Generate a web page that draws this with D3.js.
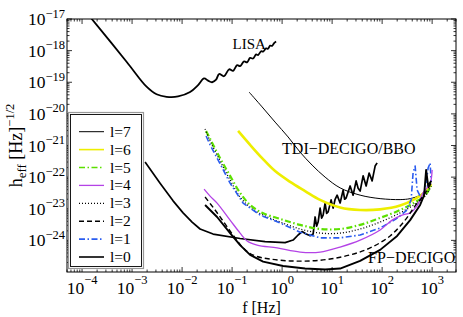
<!DOCTYPE html>
<html>
<head>
<meta charset="utf-8">
<script src="https://cdn.jsdelivr.net/npm/d3@7"></script>
<style>
  html, body { margin: 0; padding: 0; background: #fff; }
  svg text { font-family: "Liberation Serif", "Times New Roman", serif; fill: #000; }
</style>
</head>
<body>
<div id="chart"></div>
<script>
// all values are log10(f [Hz]) and log10(h_eff)
const lisaF = [-3.95, -3.82, -3.11, -2.71, -2.51, -2.31, -2.08, -1.84, -1.68, -1.56, -1.48, -1.40, -1.32, -1.26, -1.16, -1.06, -0.98, -0.90, -0.84, -0.76, -0.70, -0.64, -0.58, -0.52, -0.48, -0.42, -0.38, -0.32, -0.28, -0.24, -0.20, -0.16, -0.12]
const lisaH = [-16.72, -16.97, -18.35, -19.14, -19.38, -19.46, -19.45, -19.31, -19.09, -18.88, -18.95, -19.00, -18.92, -18.74, -18.81, -18.59, -18.64, -18.46, -18.49, -18.34, -18.37, -18.23, -18.25, -18.12, -18.14, -18.02, -18.03, -17.93, -17.94, -17.84, -17.85, -17.76, -17.71]

const noisyF = [-2.74, -2.44, -2.18, -1.98, -1.80, -1.64, -1.38, -0.84, -0.34, 0.06, 0.22, 0.32, 0.40, 0.48, 0.56, 0.62, 0.66, 0.69, 0.72, 0.76, 0.79, 0.82, 0.86, 0.89, 0.92, 0.98, 1.02, 1.06, 1.10, 1.16, 1.22, 1.25, 1.28, 1.36, 1.42, 1.48, 1.52, 1.56, 1.62, 1.68, 1.74, 1.80, 1.86, 1.90]
const noisyH = [-21.52, -22.19, -22.75, -23.13, -23.42, -23.64, -23.80, -23.94, -24.04, -24.07, -23.99, -23.83, -23.72, -23.80, -23.85, -23.80, -23.26, -23.55, -23.42, -22.98, -23.30, -23.20, -22.82, -23.15, -23.10, -22.72, -22.98, -22.70, -22.57, -22.82, -22.41, -22.70, -22.66, -22.28, -22.57, -22.12, -22.35, -22.44, -21.96, -22.28, -21.87, -22.12, -21.65, -21.55]

const l7F = [-0.66, -0.40, -0.14, 0.12, 0.36, 0.60, 0.86, 1.16, 1.56, 1.96, 2.36, 2.56, 2.76, 2.88, 2.98]
const l7H = [-19.31, -19.78, -20.26, -20.73, -21.21, -21.62, -22.00, -22.34, -22.57, -22.68, -22.71, -22.68, -22.57, -22.41, -22.12]

const l6F = [-0.88, -0.64, -0.40, -0.14, 0.16, 0.46, 0.76, 1.16, 1.56, 1.96, 2.36, 2.66, 2.86, 2.98]
const l6H = [-20.54, -20.98, -21.40, -21.81, -22.15, -22.44, -22.72, -22.96, -23.04, -23.02, -22.90, -22.69, -22.47, -22.22]

const l5F = [-1.52, -1.44, -1.24, -1.04, -0.84, -0.64, -0.40, -0.04, 0.36, 0.76, 1.16, 1.56, 1.96, 2.36, 2.66, 2.86, 2.98]
const l5H = [-20.54, -20.79, -21.40, -21.96, -22.50, -22.88, -23.13, -23.32, -23.51, -23.64, -23.64, -23.51, -23.29, -23.04, -22.79, -22.57, -22.28]

const l4F = [-1.56, -1.44, -1.30, -1.04, -0.84, -0.70, -0.50, -0.10, 0.36, 0.76, 1.16, 1.56, 1.96, 2.20, 2.40, 2.56, 2.70, 2.82, 2.96, 3.00]
const l4H = [-22.38, -22.60, -22.82, -23.36, -23.77, -24.02, -24.15, -24.24, -24.37, -24.37, -24.21, -23.99, -23.67, -23.36, -23.20, -23.13, -22.91, -22.50, -22.19, -21.77]

const l3F = [-1.54, -1.44, -1.24, -1.04, -0.84, -0.60, -0.34, -0.04, 0.36, 0.76, 1.16, 1.56, 1.96, 2.36, 2.66, 2.86, 2.98]
const l3H = [-20.48, -20.86, -21.49, -22.09, -22.63, -23.01, -23.23, -23.42, -23.64, -23.77, -23.77, -23.64, -23.42, -23.13, -22.85, -22.60, -22.28]

const l2F = [-1.54, -1.34, -1.14, -0.94, -0.74, -0.54, -0.24, 0.16, 0.56, 0.96, 1.36, 1.76, 2.16, 2.46, 2.66, 2.82, 2.98]
const l2H = [-22.63, -23.04, -23.48, -23.92, -24.30, -24.49, -24.59, -24.65, -24.65, -24.59, -24.46, -24.24, -23.86, -23.36, -22.91, -22.60, -22.19]

const l1F = [-1.52, -1.44, -1.24, -1.04, -0.78, -0.44, -0.04, 0.36, 0.76, 1.16, 1.56, 1.96, 2.28, 2.48, 2.58, 2.62, 2.66, 2.70, 2.78, 2.86, 2.92, 2.96, 2.98]
const l1H = [-20.70, -20.98, -21.58, -22.19, -22.82, -23.20, -23.45, -23.74, -23.92, -23.92, -23.83, -23.61, -23.32, -23.07, -22.72, -21.84, -21.65, -22.41, -22.66, -22.41, -21.71, -21.55, -22.15]

const l0F = [-1.54, -1.30, -1.04, -0.84, -0.64, -0.38, 0.02, 0.46, 0.86, 1.16, 1.56, 1.96, 2.30, 2.56, 2.76, 2.84, 2.88, 2.92, 2.98]
const l0H = [-22.88, -23.26, -23.77, -24.15, -24.46, -24.67, -24.81, -24.89, -24.92, -24.89, -24.65, -24.30, -23.86, -23.36, -22.88, -22.57, -21.77, -22.28, -22.12]

const legendLabels = ['l=7', 'l=6', 'l=5', 'l=4', 'l=3', 'l=2', 'l=1', 'l=0']
const annotations = [
  { text: 'LISA', f: -0.99, h: -17.95 },
  { text: 'TDI\u2212DECIGO/BBO', f: 0.0, h: -21.26 },
  { text: 'FP\u2212DECIGO', f: 1.72, h: -24.72 }
]

const width = 463
const height = 317
const plot = { left: 67, right: 456, top: 19, bottom: 272 }

const svg = d3.select('#chart')
  .append('svg')
  .attr('width', width)
  .attr('height', height)

const x = d3.scaleLog()
  .domain([5e-5, 3e3])
  .range([plot.left, plot.right])
const y = d3.scaleLog()
  .domain([1e-25, 1e-17])
  .range([plot.bottom, plot.top])

const isMajor = d => Math.abs(Math.log10(d) - Math.round(Math.log10(d))) < 1e-6

svg.append('clipPath').attr('id', 'clip')
  .append('rect')
  .attr('x', plot.left).attr('y', plot.top)
  .attr('width', plot.right - plot.left).attr('height', plot.bottom - plot.top)

const pts = (fs, hs) => fs.map((f, i) => [f, hs[i]])
const smooth = d3.line()
  .x(d => x(Math.pow(10, d[0])))
  .y(d => y(Math.pow(10, d[1])))
  .curve(d3.curveCatmullRom.alpha(0.5))
const jagged = d3.line()
  .x(d => x(Math.pow(10, d[0])))
  .y(d => y(Math.pow(10, d[1])))

const styles = {
  l7: { color: '#000', width: 1, dash: null },
  l6: { color: '#eeee00', width: 2.6, dash: null },
  l5: { color: '#5ce000', width: 2.2, dash: '6,2.5,1.5,2.5' },
  l4: { color: '#b443e6', width: 1.3, dash: null },
  l3: { color: '#000', width: 1.3, dash: '1,2' },
  l2: { color: '#000', width: 1.4, dash: '5,3' },
  l1: { color: '#2a5cf0', width: 1.6, dash: '6,2.5,1.5,2.5' },
  l0: { color: '#000', width: 1.9, dash: null }
}

const curves = [
  { d: pts(lisaF, lisaH), color: '#000', width: 1.8, dash: null, gen: smooth },
  { d: pts(noisyF, noisyH), color: '#000', width: 1.7, dash: null, gen: jagged },
  { d: pts(l7F, l7H), ...styles.l7, gen: smooth },
  { d: pts(l6F, l6H), ...styles.l6, gen: smooth },
  { d: pts(l5F, l5H), ...styles.l5, gen: smooth },
  { d: pts(l3F, l3H), ...styles.l3, gen: smooth },
  { d: pts(l1F, l1H), ...styles.l1, gen: jagged },
  { d: pts(l4F, l4H), ...styles.l4, gen: smooth },
  { d: pts(l2F, l2H), ...styles.l2, gen: smooth },
  { d: pts(l0F, l0H), ...styles.l0, gen: jagged }
]

const g = svg.append('g').attr('clip-path', 'url(#clip)')
g.selectAll('path')
  .data(curves)
  .join('path')
  .attr('d', c => c.gen(c.d))
  .attr('fill', 'none')
  .attr('stroke', c => c.color)
  .attr('stroke-width', c => c.width)
  .attr('stroke-dasharray', c => c.dash)
  .attr('stroke-linejoin', 'round')

// frame
svg.append('rect')
  .attr('x', plot.left).attr('y', plot.top)
  .attr('width', plot.right - plot.left).attr('height', plot.bottom - plot.top)
  .attr('fill', 'none').attr('stroke', '#000').attr('stroke-width', 1)

// ticks, inward on all four sides
const xt = x.ticks().filter(d => d >= x.domain()[0] && d <= x.domain()[1])
const yt = y.ticks()
const ticks = svg.append('g').attr('stroke', '#000').attr('stroke-width', 0.8)
xt.forEach(d => {
  const len = isMajor(d) ? 5 : 2.5
  const px = x(d)
  ticks.append('line').attr('x1', px).attr('x2', px).attr('y1', plot.bottom).attr('y2', plot.bottom - len)
  ticks.append('line').attr('x1', px).attr('x2', px).attr('y1', plot.top).attr('y2', plot.top + len)
})
yt.forEach(d => {
  const len = isMajor(d) ? 5 : 2.5
  const py = y(d)
  ticks.append('line').attr('y1', py).attr('y2', py).attr('x1', plot.left).attr('x2', plot.left + len)
  ticks.append('line').attr('y1', py).attr('y2', py).attr('x1', plot.right).attr('x2', plot.right - len)
})

const expText = d => String(Math.round(Math.log10(d))).replace('-', '\u2212')

// x tick labels
xt.filter(isMajor).forEach(d => {
  const t = svg.append('text')
    .attr('x', x(d)).attr('y', 294)
    .attr('text-anchor', 'middle')
    .attr('font-size', 17.5)
  t.append('tspan').text('10')
  t.append('tspan').attr('dy', -10).attr('font-size', 12.5).text(expText(d))
})

// y tick labels
yt.filter(isMajor).forEach(d => {
  const t = svg.append('text')
    .attr('x', 65).attr('y', y(d) + 6)
    .attr('text-anchor', 'end')
    .attr('font-size', 17.5)
  t.append('tspan').text('10')
  t.append('tspan').attr('dy', -7.5).attr('font-size', 12.5).text(expText(d))
})

// axis titles
svg.append('text')
  .attr('x', (plot.left + plot.right) / 2).attr('y', 313)
  .attr('text-anchor', 'middle')
  .attr('font-size', 16)
  .text('f [Hz]')

const yl = svg.append('text')
  .attr('transform', `translate(22,${(plot.top + plot.bottom) / 2}) rotate(-90)`)
  .attr('text-anchor', 'middle')
  .attr('font-size', 18)
yl.append('tspan').text('h')
yl.append('tspan').attr('dy', 4).attr('font-size', 13).text('eff')
yl.append('tspan').attr('dy', -4).text(' [Hz]')
yl.append('tspan').attr('dy', -8).attr('font-size', 12.5).text('\u22121/2')

// annotations
svg.selectAll('text.note')
  .data(annotations)
  .join('text')
  .attr('class', 'note')
  .attr('x', d => x(Math.pow(10, d.f)))
  .attr('y', d => y(Math.pow(10, d.h)))
  .attr('font-size', d => d.text === 'LISA' ? 15 : 16)
  .text(d => d.text)

// legend
const lg = svg.append('g')
lg.append('rect')
  .attr('x', 68.5).attr('y', 112.5).attr('width', 75).attr('height', 156)
  .attr('fill', '#fff').attr('stroke', '#999').attr('stroke-width', 1.2)
lg.append('rect')
  .attr('x', 70.5).attr('y', 114.5).attr('width', 71).attr('height', 152)
  .attr('fill', '#fff').attr('stroke', '#000').attr('stroke-width', 0.9)

const legendKeys = ['l7', 'l6', 'l5', 'l4', 'l3', 'l2', 'l1', 'l0']
const ly = d3.scalePoint().domain(legendLabels).range([131.7, 257])
legendLabels.forEach((lab, i) => {
  const s = styles[legendKeys[i]]
  const yy = ly(lab)
  lg.append('line')
    .attr('x1', 79).attr('x2', 104).attr('y1', yy).attr('y2', yy)
    .attr('stroke', s.color)
    .attr('stroke-width', Math.min(s.width, 1.6))
    .attr('stroke-dasharray', s.dash)
  lg.append('text')
    .attr('x', 110).attr('y', yy + 5)
    .attr('font-size', 15.5)
    .text(lab)
})
</script>
</body>
</html>
